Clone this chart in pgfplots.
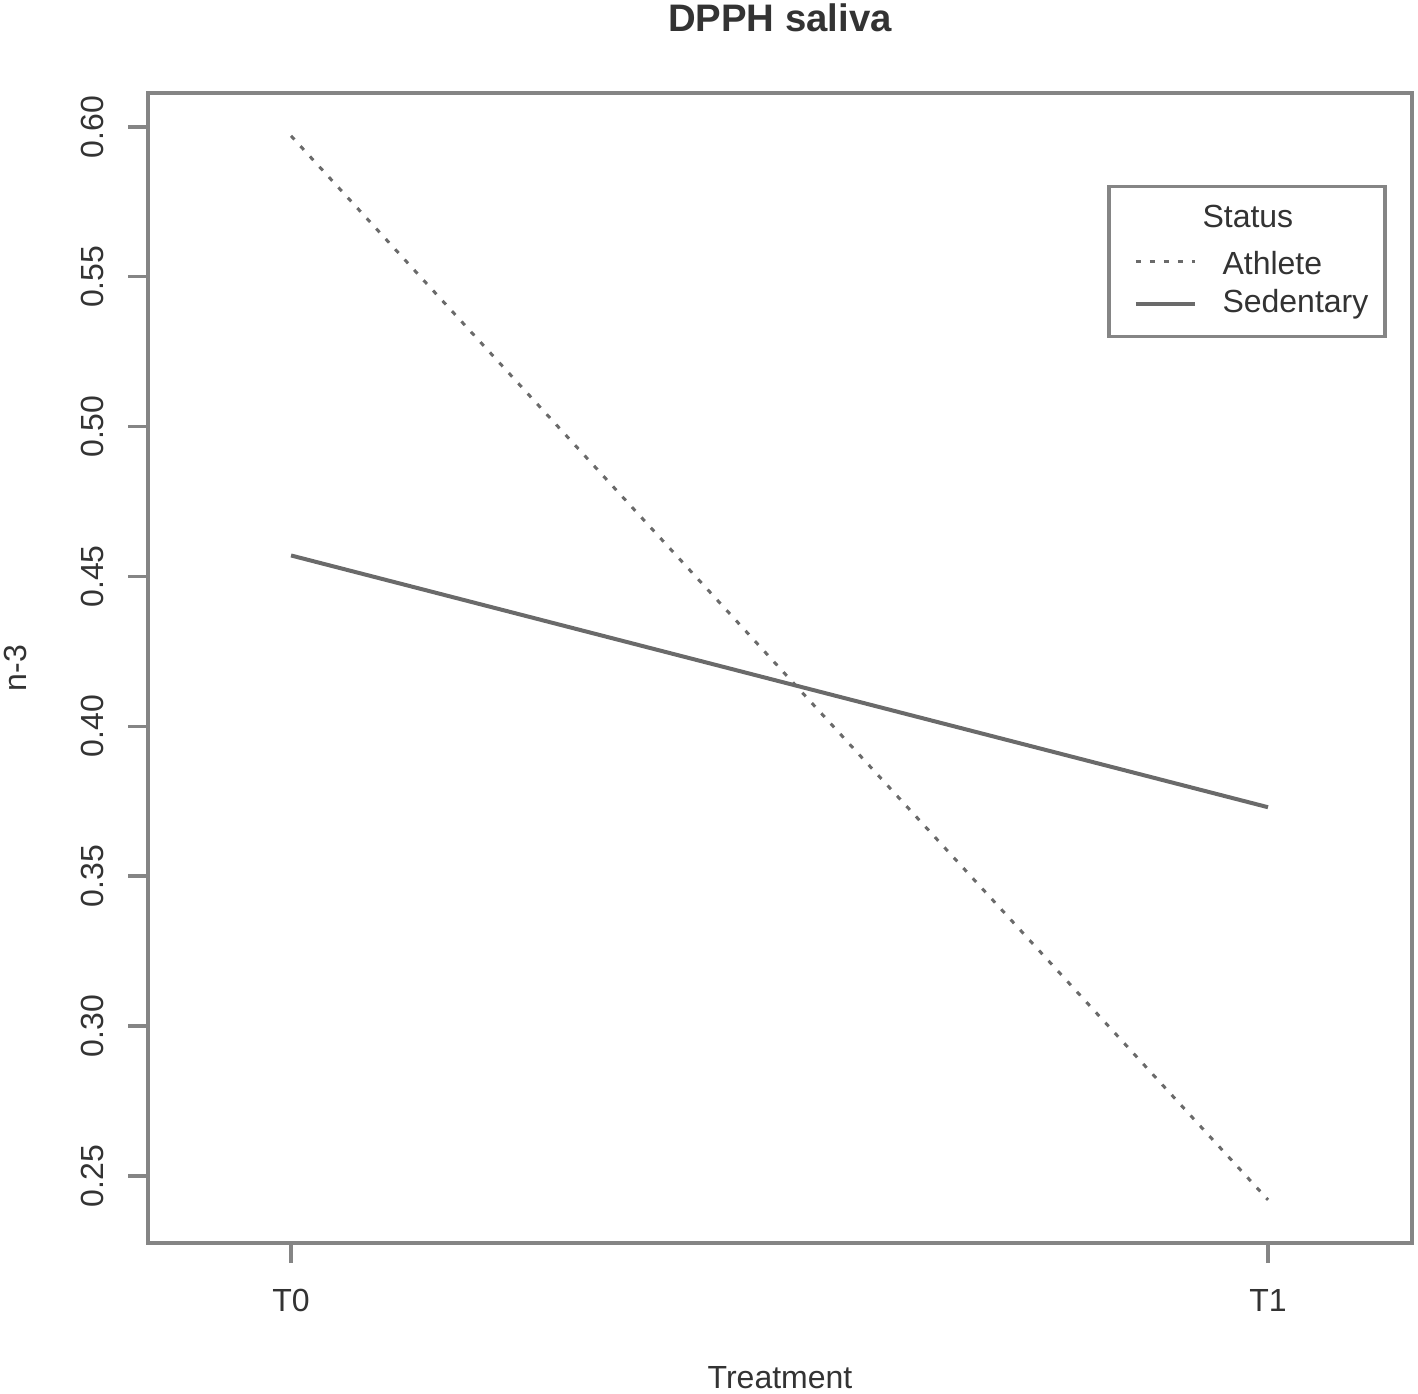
\documentclass[border=0pt]{standalone}
\usepackage{fontspec}
\setmainfont{Liberation Sans}
\usepackage{pgfplots}
\pgfplotsset{compat=1.18}

\definecolor{boxgray}{HTML}{858585}
\definecolor{linegray}{HTML}{6A6A6A}
\definecolor{txt}{HTML}{333333}

\begin{document}
\begin{tikzpicture}
\begin{axis}[
    scale only axis,
    width=379.2pt, height=345pt,
    xmin=0.8536, xmax=2.1474,
    ymin=0.2276, ymax=0.6113,
    axis line style={boxgray, line width=1.2pt},
    every tick/.style={boxgray, line width=1pt},
    tick align=outside,
    major tick length=6pt,
    xtick pos=bottom, ytick pos=left,
    xtick={1,2}, xticklabels={T0,T1},
    ytick={0.25,0.30,0.35,0.40,0.45,0.50,0.55,0.60},
    yticklabels={0.25,0.30,0.35,0.40,0.45,0.50,0.55,0.60},
    ticklabel style={font=\fontsize{9.6}{11}\selectfont, text=txt},
    yticklabel style={rotate=90, anchor=base, yshift=7.5pt},
    xticklabel style={anchor=base, yshift=-14.5pt},
    title={\textbf{DPPH saliva}},
    title style={at={(0.5,1)}, anchor=base, yshift=12.4pt,
        font=\fontsize{11.5}{13}\selectfont, text=txt},
    xlabel={Treatment},
    xlabel style={at={(0.5,0)}, anchor=base, yshift=-43.6pt,
        font=\fontsize{9.6}{11}\selectfont, text=txt},
    ylabel={n-3},
    ylabel style={at={(0,0.5)}, anchor=base, yshift=36.6pt,
        font=\fontsize{9.6}{11}\selectfont, text=txt},
    legend style={at={(0.980,0.92)}, anchor=north east,
        draw=boxgray, line width=1pt, text=txt,
        font=\fontsize{9.6}{11}\selectfont,
        inner xsep=3pt, inner ysep=3.5pt, row sep=-1pt},
    legend cell align=left,
    legend image code/.code={\path (0pt,0pt); \draw[#1] (4.5pt,0pt) -- (22.2pt,0pt);},
]
\addlegendimage{empty legend}
\addlegendentry{\hspace{-0.3pt}Status}
\addplot[linegray, line width=0.9pt, dash pattern=on 1.5pt off 2.7pt]
    coordinates {(1,0.597) (2,0.242)};
\addlegendentry{\hspace{5.7pt}\rule{0pt}{9.7pt}Athlete}
\addplot[linegray, line width=1.2pt]
    coordinates {(1,0.457) (2,0.373)};
\addlegendentry{\hspace{5.7pt}Sedentary}
\end{axis}
\pgfresetboundingbox
\path[use as bounding box]
    ([xshift=-44.4pt,yshift=-45pt]current axis.south west) rectangle
    ([xshift=1.8pt,yshift=27.9pt]current axis.north east);
\end{tikzpicture}
\end{document}
